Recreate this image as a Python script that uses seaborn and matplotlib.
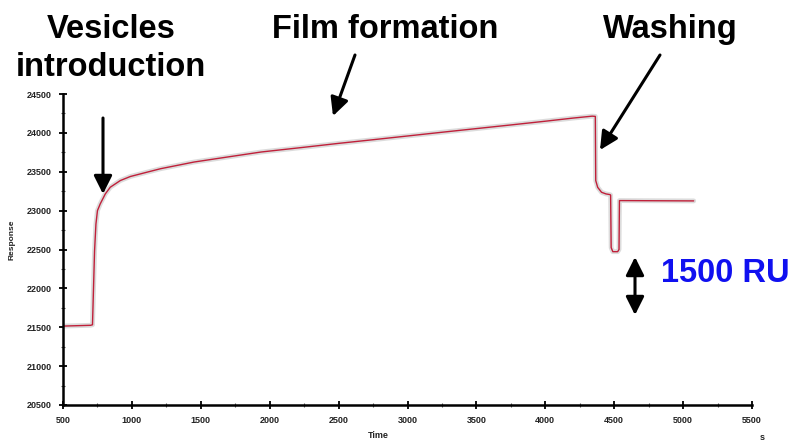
import matplotlib
matplotlib.use("Agg")
import matplotlib.pyplot as plt
import seaborn as sns
import pandas as pd
import numpy as np

# ---- data ----
time_s = [500, 600, 700, 714, 729, 739, 750, 770, 807, 843, 916, 989, 1100, 1208,
          1451, 1695, 1938, 2250, 2500, 2750, 3000, 3250, 3500, 3750, 4000, 4200,
          4340, 4363, 4366, 4380, 4408, 4440, 4469, 4474, 4478, 4490, 4525, 4535,
          4538, 4560, 4800, 5077]
response = [21515, 21520, 21525, 21532, 22481, 22827, 23000, 23086, 23215, 23301,
            23387, 23439, 23490, 23539, 23625, 23690, 23754, 23815, 23865, 23912,
            23960, 24008, 24055, 24102, 24150, 24190, 24215, 24212, 23387, 23300,
            23236, 23215, 23206, 23200, 22524, 22472, 22472, 22500, 23129, 23129,
            23127, 23125]

x_ticks = [500, 1000, 1500, 2000, 2500, 3000, 3500, 4000, 4500, 5000, 5500]
y_ticks = [20500, 21000, 21500, 22000, 22500, 23000, 23500, 24000, 24500]

df = pd.DataFrame({"Time": time_s, "Response": response})

sns.set_style("ticks")
plt.rcParams["font.family"] = ["Liberation Sans", "DejaVu Sans"]

W, H = 797, 443
fig = plt.figure(figsize=(W / 100, H / 100), dpi=100)
ax = fig.add_axes([63 / W, 1 - 405 / H, (752 - 63) / W, (405 - 94) / H])

# light grey noisy halo + red trace
sns.lineplot(data=df, x="Time", y="Response", ax=ax, color="#dcdcdc", lw=3.5,
             estimator=None, sort=False, zorder=1)
sns.lineplot(data=df, x="Time", y="Response", ax=ax, color="#c0203a", lw=1.0,
             estimator=None, sort=False, zorder=2)

ax.set_xlim(500, 5500)
ax.set_ylim(20500, 24500)
ax.set_xticks(x_ticks)
ax.set_yticks(y_ticks)
ax.set_xticklabels([str(v) for v in x_ticks], fontsize=6.5, fontweight="bold", color="#222222")
ax.set_yticklabels([str(v) for v in y_ticks], fontsize=6.5, fontweight="bold", color="#222222")
ax.set_xticks(np.arange(750, 5500, 500), minor=True)
ax.set_yticks(np.arange(20750, 24500, 250), minor=True)
ax.tick_params(axis="both", which="major", direction="inout", length=6, width=1.3, colors="black",
               labelcolor="#222222", pad=5)
ax.tick_params(axis="both", which="minor", direction="inout", length=3, width=0.8, colors="#555555")
for s in ["top", "right"]:
    ax.spines[s].set_visible(False)
for s in ["left", "bottom"]:
    ax.spines[s].set_linewidth(1.8)
    ax.spines[s].set_color("black")
ax.set_xlabel("")
ax.set_ylabel("")

def fp(x, y):
    return (x / W, 1 - y / H)

fig.text(*fp(12, 240), "Response", rotation=90, fontsize=6, fontweight="bold",
         ha="center", va="center", color="#222222")
fig.text(*fp(378, 436), "Time", fontsize=6.5, fontweight="bold", ha="center", va="center",
         color="#222222")
fig.text(*fp(762, 437), "s", fontsize=6.5, fontweight="bold", ha="center", va="center",
         color="#222222")

tkw = dict(fontsize=23.5, fontweight="bold", ha="center", va="baseline", color="black")
fig.text(*fp(111, 38), "Vesicles", **tkw)
fig.text(*fp(111, 76), "introduction", **tkw)
fig.text(*fp(385, 38), "Film formation", **tkw)
fig.text(*fp(670, 38), "Washing", **tkw)
fig.text(*fp(725, 282), "1500 RU", fontsize=23.5, fontweight="bold", ha="center",
         va="baseline", color="#1010f0")

akw = dict(arrowstyle="-|>,head_length=0.5,head_width=0.25", color="black", lw=2.2,
           mutation_scale=22, shrinkA=0, shrinkB=0)
ax.annotate("", xy=fp(103, 194), xytext=fp(103, 118), xycoords="figure fraction",
            textcoords="figure fraction", arrowprops=akw)
ax.annotate("", xy=fp(333, 116), xytext=fp(355, 55), xycoords="figure fraction",
            textcoords="figure fraction", arrowprops=akw)
ax.annotate("", xy=fp(600, 150), xytext=fp(660, 55), xycoords="figure fraction",
            textcoords="figure fraction", arrowprops=akw)
dkw = dict(akw, arrowstyle="<|-|>,head_length=0.5,head_width=0.25")
ax.annotate("", xy=fp(635, 315), xytext=fp(635, 257), xycoords="figure fraction",
            textcoords="figure fraction", arrowprops=dkw)

fig.savefig("out.png", dpi=100)
